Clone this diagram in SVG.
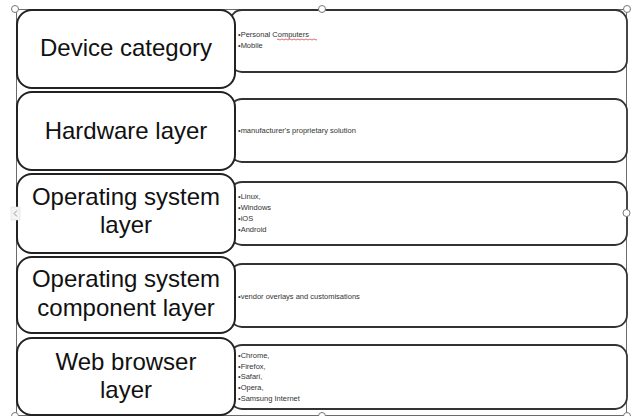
<svg xmlns="http://www.w3.org/2000/svg" width="632" height="416" viewBox="0 0 632 416">
<style>
.frame{fill:none;stroke:#6b6b6b;stroke-width:1}
.handle{fill:#fff;stroke:#777;stroke-width:1}
.lbox{fill:#fff;stroke:#222;stroke-width:2}
.rbox{fill:#fff;stroke:#333;stroke-width:1.8}
.ltxt{font-family:"Liberation Sans",Arial,sans-serif;font-size:24px;fill:#111;text-anchor:middle}
.rtxt{font-family:"Liberation Sans",Arial,sans-serif;font-size:7.5px;fill:#333}
</style>
<rect width="632" height="416" fill="#fff"/>
<rect class="frame" x="16.5" y="9.5" width="610" height="406"/>
<g id="connectors"></g>
<g id="row1">
<rect class="rbox" x="230" y="10" width="397" height="62" rx="12"/>
<rect class="lbox" x="17" y="10" width="218" height="78" rx="15"/>
<text class="ltxt" x="126" y="56">Device category</text>
<text class="rtxt" x="238" y="37">•Personal Computers</text>
<text class="rtxt" x="238" y="48">•Mobile</text>
<path d="M277 39.5 q1 -1 2 0 t2 0 t2 0 t2 0 t2 0 t2 0 t2 0 t2 0 t2 0 t2 0 t2 0 t2 0 t2 0 t2 0 t2 0 t2 0 t2 0 t2 0 t2 0 t2 0" fill="none" stroke="#d03030" stroke-width="0.7"/>
</g>
<g id="row2">
<rect class="rbox" x="230" y="99" width="397" height="63" rx="12"/>
<rect class="lbox" x="17" y="92" width="218" height="78" rx="15"/>
<text class="ltxt" x="126" y="139">Hardware layer</text>
<text class="rtxt" x="238" y="133">•manufacturer's proprietary solution</text>
</g>
<g id="row3">
<rect class="rbox" x="230" y="182" width="397" height="63" rx="12"/>
<rect class="lbox" x="17" y="174" width="218" height="79" rx="15"/>
<text class="ltxt" x="126" y="205">Operating system</text>
<text class="ltxt" x="126" y="233">layer</text>
<text class="rtxt" x="238" y="199">•Linux,</text>
<text class="rtxt" x="238" y="210">•Windows</text>
<text class="rtxt" x="238" y="221">•iOS</text>
<text class="rtxt" x="238" y="232">•Android</text>
</g>
<g id="row4">
<rect class="rbox" x="230" y="264" width="397" height="63" rx="12"/>
<rect class="lbox" x="17" y="257" width="218" height="76" rx="15"/>
<text class="ltxt" x="126" y="287">Operating system</text>
<text class="ltxt" x="126" y="316">component layer</text>
<text class="rtxt" x="238" y="299">•vendor overlays and customisations</text>
</g>
<g id="row5">
<rect class="rbox" x="230" y="345" width="397" height="64" rx="12"/>
<rect class="lbox" x="17" y="338" width="218" height="77" rx="15"/>
<text class="ltxt" x="126" y="370">Web browser</text>
<text class="ltxt" x="126" y="398">layer</text>
<text class="rtxt" x="238" y="358">•Chrome,</text>
<text class="rtxt" x="238" y="368.5">•Firefox,</text>
<text class="rtxt" x="238" y="379">•Safari,</text>
<text class="rtxt" x="238" y="390">•Opera,</text>
<text class="rtxt" x="238" y="401">•Samsung Internet</text>
</g>
<g id="handles">
<circle class="handle" cx="15" cy="9" r="3.5"/>
<circle class="handle" cx="322" cy="9" r="3.5"/>
<circle class="handle" cx="627" cy="9" r="3.5"/>
<circle class="handle" cx="626.5" cy="213" r="3.5"/>
<circle class="handle" cx="322" cy="416" r="3.5"/>
<circle class="handle" cx="627" cy="416" r="3.5"/>
<circle class="handle" cx="15" cy="416" r="3.5"/>
<rect x="11" y="207" width="9" height="13" fill="#f4f4f4" stroke="#ddd" stroke-width="0.6"/>
<polyline points="17,210.5 14,213.5 17,216.5" fill="none" stroke="#999" stroke-width="1"/>
</g>
</svg>
